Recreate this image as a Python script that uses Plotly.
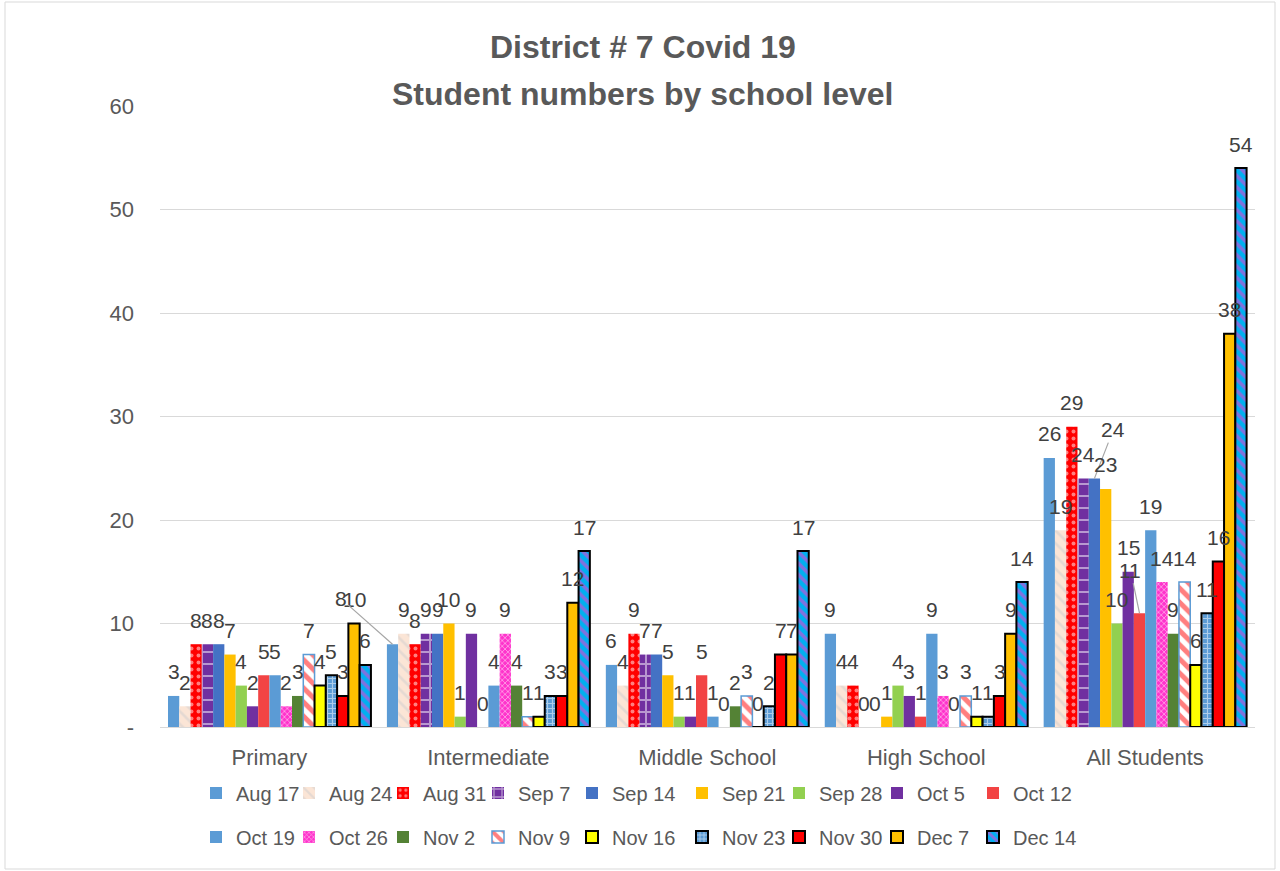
import plotly.graph_objects as go

categories = ["Primary", "Intermediate", "Middle School", "High School", "All Students"]
series_names = ["Aug 17", "Aug 24", "Aug 31", "Sep 7", "Sep 14", "Sep 21", "Sep 28", "Oct 5", "Oct 12",
                "Oct 19", "Oct 26", "Nov 2", "Nov 9", "Nov 16", "Nov 23", "Nov 30", "Dec 7", "Dec 14"]
primary      = [3, 2, 8, 8, 8, 7, 4, 2, 5, 5, 2, 3, 7, 4, 5, 3, 10, 6]
intermediate = [8, 9, 8, 9, 9, 10, 1, 9, 0, 4, 9, 4, 1, 1, 3, 3, 12, 17]
middle       = [6, 4, 9, 7, 7, 5, 1, 1, 5, 1, 0, 2, 3, 0, 2, 7, 7, 17]
high         = [9, 4, 4, 0, 0, 1, 4, 3, 1, 9, 3, 0, 3, 1, 1, 3, 9, 14]
all_students = [26, 19, 29, 24, 24, 23, 10, 15, 11, 19, 14, 9, 14, 6, 11, 16, 38, 54]
y_ticks = [0, 10, 20, 30, 40, 50, 60]
y_tick_labels = ["-", "10", "20", "30", "40", "50", "60"]

styles = {
    "Aug 17": dict(color="#5B9BD5"),
    "Aug 24": dict(color="#FBE5D6", pattern=dict(shape="\\", fgcolor="#D0CECE", bgcolor="#FBE5D6", size=9, solidity=0.3)),
    "Aug 31": dict(color="#FF0000", pattern=dict(shape=".", fgcolor="#FFFFFF", bgcolor="#FF0000", size=7, solidity=0.25)),
    "Sep 7": dict(color="#7030A0", pattern=dict(shape="+", fgcolor="#FFFFFF", bgcolor="#7030A0", size=12, solidity=0.3)),
    "Sep 14": dict(color="#4472C4"),
    "Sep 21": dict(color="#FFC000"),
    "Sep 28": dict(color="#92D050"),
    "Oct 5": dict(color="#7030A0"),
    "Oct 12": dict(color="#F24444"),
    "Oct 19": dict(color="#5B9BD5"),
    "Oct 26": dict(color="#FF33CC", pattern=dict(shape="x", fgcolor="#FFFFFF", bgcolor="#FF33CC", size=4, solidity=0.4)),
    "Nov 2": dict(color="#548235"),
    "Nov 9": dict(color="#FFFFFF", line=dict(color="#5B9BD5", width=1.5),
                  pattern=dict(shape="\\", fgcolor="#FF0000", bgcolor="#FFFFFF", size=10, solidity=0.5)),
    "Nov 16": dict(color="#FFFF00", line=dict(color="#000000", width=2)),
    "Nov 23": dict(color="#5B9BD5", line=dict(color="#000000", width=2),
                   pattern=dict(shape="+", fgcolor="#FFFFFF", bgcolor="#5B9BD5", size=5, solidity=0.4)),
    "Nov 30": dict(color="#FF0000", line=dict(color="#000000", width=2)),
    "Dec 7": dict(color="#FFC000", line=dict(color="#000000", width=2)),
    "Dec 14": dict(color="#00B0F0", line=dict(color="#000000", width=2),
                   pattern=dict(shape="\\", fgcolor="#FF33CC", bgcolor="#00B0F0", size=8, solidity=0.45)),
}

# labels drawn with leader lines instead of directly above the bar: (category index, series index, dx, dy)
leader_labels = [(1, 0, -52, -46), (4, 4, 19, -49), (4, 8, -9, -43)]

FONT = "Liberation Sans, Arial, sans-serif"
LABEL_COLOR = "#404040"
AXIS_COLOR = "#595959"
LABEL_LIFT = 24  # px between bar top and label centre

# layout geometry (pixels)
W, H = 1280, 871
ML, MR, MT, MB = 160, 25, 106, 144
PW, PH = W - ML - MR, H - MT - MB
BARGAP = 0.073

def px_to_xpaper(px):
    return (px - ML) / PW

def py_to_ypaper(py):
    return (H - MB - py) / PH

fig = go.Figure()
values_by_cat = [primary, intermediate, middle, high, all_students]
leader = {(c, s): (dx, dy) for c, s, dx, dy in leader_labels}

legend_sym_px = [216, 309, 403, 498, 592, 702, 799, 897, 993]
legend_rows_py = [793, 837]
legend_layouts = {}

for i, name in enumerate(series_names):
    vals = [v[i] for v in values_by_cat]
    st = styles[name]
    marker = dict(color=st["color"])
    marker["line"] = st.get("line", dict(width=0))
    if "pattern" in st:
        marker["pattern"] = st["pattern"]
    lname = "legend" if i == 0 else f"legend{i + 1}"
    fig.add_trace(go.Bar(
        x=categories, y=vals, name=name, marker=marker,
        cliponaxis=False, legend=lname, hoverinfo="x+y+name",
    ))
    row, col = divmod(i, 9)
    legend_layouts[lname] = dict(
        orientation="h", x=px_to_xpaper(legend_sym_px[col] - 20), y=py_to_ypaper(legend_rows_py[row]),
        xanchor="left", yanchor="middle", bgcolor="rgba(0,0,0,0)",
        font=dict(family=FONT, size=20, color=AXIS_COLOR), itemwidth=30,
    )

fig.update_layout(
    width=W, height=H,
    paper_bgcolor="white", plot_bgcolor="white",
    barmode="group", bargap=BARGAP, bargroupgap=0,
    margin=dict(l=ML, r=MR, t=MT, b=MB),
    font=dict(family=FONT, color=AXIS_COLOR),
    showlegend=True,
    **legend_layouts,
)

fig.update_yaxes(range=[0, 60], tickvals=y_ticks, ticktext=y_tick_labels,
                 showgrid=True, gridcolor="#D9D9D9", gridwidth=1.3,
                 zeroline=False, showline=False, ticklabelstandoff=25,
                 tickfont=dict(family=FONT, size=22, color=AXIS_COLOR))
fig.update_xaxes(showline=True, linecolor="#D9D9D9", linewidth=1.3, ticklabelstandoff=10,
                 tickfont=dict(family=FONT, size=22, color=AXIS_COLOR), ticks="")

# data labels, anchored at each bar top via the category axis
cat_w = PW / len(categories)
bar_w = cat_w * (1 - BARGAP) / len(series_names)
for c, cat in enumerate(categories):
    for s in range(len(series_names)):
        v = values_by_cat[c][s]
        xshift = (s - (len(series_names) - 1) / 2) * bar_w
        if (c, s) in leader:
            dx, dy = leader[(c, s)]
            fig.add_annotation(x=cat, y=v, xref="x", yref="y", xshift=xshift,
                               text=str(v), showarrow=True, arrowhead=0, arrowwidth=1.2,
                               arrowcolor="#A6A6A6", ax=dx, ay=dy, standoff=0,
                               font=dict(family=FONT, size=21, color=LABEL_COLOR))
        else:
            fig.add_annotation(x=cat, y=v, xref="x", yref="y", xshift=xshift, yshift=LABEL_LIFT,
                               text=str(v), showarrow=False, xanchor="center", yanchor="middle",
                               font=dict(family=FONT, size=21, color=LABEL_COLOR))

fig.add_annotation(text="<b>District # 7 Covid 19</b>", xref="paper", yref="paper",
                   x=px_to_xpaper(642.5), y=py_to_ypaper(47), xanchor="center", yanchor="middle",
                   showarrow=False, font=dict(family=FONT, size=32, color=AXIS_COLOR))
fig.add_annotation(text="<b>Student numbers by school level</b>", xref="paper", yref="paper",
                   x=px_to_xpaper(642.5), y=py_to_ypaper(94), xanchor="center", yanchor="middle",
                   showarrow=False, font=dict(family=FONT, size=32, color=AXIS_COLOR))

fig.add_shape(type="rect", xref="paper", yref="paper",
              x0=px_to_xpaper(5), x1=px_to_xpaper(1275), y0=py_to_ypaper(869), y1=py_to_ypaper(2),
              line=dict(color="#D9D9D9", width=1), fillcolor="rgba(0,0,0,0)", layer="below")

fig.write_html("out.html", config={"displayModeBar": False},
               post_script="document.body.style.margin='0px';")
